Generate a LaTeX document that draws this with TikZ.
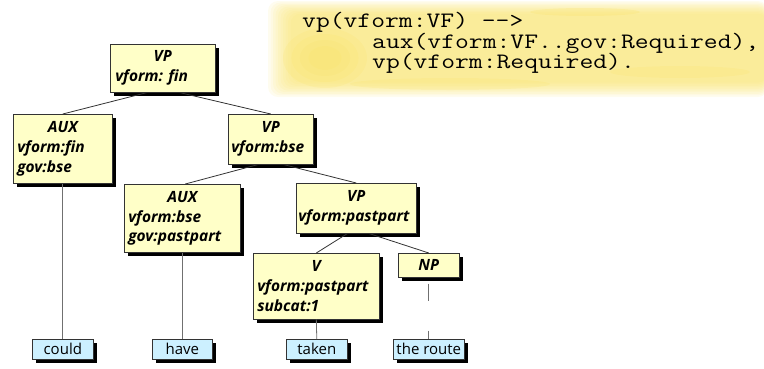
\documentclass[tikz,border=0pt]{standalone}
\usepackage{fontspec}
\setsansfont{Open Sans}
\usetikzlibrary{shadows}
\definecolor{boxfill}{HTML}{FFFFC8}
\definecolor{leaffill}{HTML}{CCF0FF}
\definecolor{edgecol}{HTML}{333333}
\definecolor{leafline}{HTML}{707070}
\definecolor{hiyellow}{HTML}{F8E266}
\tikzset{
  fbox/.style={draw=edgecol, line width=0.6pt, fill=boxfill, rectangle, inner sep=0pt, anchor=north west,
    drop shadow={shadow xshift=4pt, shadow yshift=-4pt, fill=black, opacity=1},
    font=\sffamily\bfseries\itshape\fontsize{15.5}{20}\selectfont},
  leaf/.style={draw=edgecol, line width=0.6pt, fill=leaffill, rectangle, inner sep=0pt, anchor=north west,
    drop shadow={shadow xshift=4pt, shadow yshift=-4pt, fill=black, opacity=1},
    font=\sffamily\fontsize{15}{18}\selectfont, minimum height=20pt},
  tline/.style={draw=edgecol, line width=0.8pt},
  lline/.style={draw=leafline, line width=0.8pt},
  codetxt/.style={anchor=base west, inner sep=0pt, font=\ttfamily\fontsize{22}{21}\selectfont}
}
\newcommand{\flab}[3]{\begin{minipage}{#1pt}\centering #2\par\raggedright #3\end{minipage}}
\newcommand{\wide}[1]{\scalebox{1.22}[1]{#1}}
\begin{document}
\begin{tikzpicture}[x=1pt,y=-1pt]
\useasboundingbox (0,0) rectangle (764,368);
% yellow watercolour background
\foreach \i in {0,...,9}{
  \fill[hiyellow, opacity=0.1, rounded corners=10pt] (268+\i*2.5,1+\i*1.4) rectangle (768,97-\i*1.6);
}
\foreach \r in {1,0.8,0.6,0.4}{
  \fill[hiyellow, opacity=0.18] (325,58) ellipse ({42pt*\r} and {30pt*\r});
}
\fill[hiyellow, opacity=0.25] (585,12) ellipse (55pt and 4pt);
\fill[hiyellow, opacity=0.2] (450,84) ellipse (100pt and 6pt);
\fill[hiyellow, opacity=0.2] (680,72) ellipse (70pt and 6pt);
% code
\node[codetxt] (code1) at (302,27) {\wide{vp(vform:VF) -->}};
\node[codetxt] (code2) at (372,48) {\wide{aux(vform:VF..gov:Required),}};
\node[codetxt] (code3) at (372,68) {\wide{vp(vform:Required).}};
% tree nodes
\node[fbox, minimum width=105pt, minimum height=48pt] (vp1) at (110,44) {\flab{95}{VP}{vform: fin}};
\node[fbox, minimum width=99pt, minimum height=69pt] (aux1) at (13,114) {\flab{91}{AUX}{vform:fin\\gov:bse}};
\node[fbox, minimum width=85pt, minimum height=50pt] (vp2) at (228,114) {\flab{79}{VP}{vform:bse}};
\node[fbox, minimum width=116pt, minimum height=68pt] (aux2) at (124,184) {\flab{108}{AUX}{vform:bse\\gov:pastpart}};
\node[fbox, minimum width=120pt, minimum height=50pt] (vp3) at (296,183) {\flab{116}{VP}{vform:pastpart}};
\node[fbox, minimum width=126pt, minimum height=66pt] (v) at (253,253) {\flab{118}{V}{vform:pastpart\\subcat:1}};
\node[fbox, minimum width=61pt, minimum height=24pt] (np) at (398,253) {NP};
% leaves
\node[leaf, minimum width=61pt] (could) at (32,339) {could};
\node[leaf, minimum width=60pt] (have) at (152,339) {have};
\node[leaf, minimum width=61pt] (taken) at (286,339) {taken};
\node[leaf, minimum width=71pt] (route) at (393,339) {the route};
% edges
\draw[tline] ([xshift=-16pt]vp1.south) -- (aux1.north);
\draw[tline] ([xshift=17pt]vp1.south) -- (vp2.north);
\draw[tline] ([xshift=-13pt]vp2.south) -- ([xshift=3pt]aux2.north);
\draw[tline] ([xshift=13pt]vp2.south) -- (vp3.north);
\draw[tline] ([xshift=-9pt]vp3.south) -- (v.north);
\draw[tline] ([xshift=13pt]vp3.south) -- (np.north);
\draw[lline] (aux1.south) -- (could.north);
\draw[lline] (aux2.south) -- (have.north);
\draw[lline] (v.south) -- (taken.north);
\draw[lline, dash pattern=on 0pt off 6pt on 17pt off 30pt on 9pt] (np.south) -- (route.north);
\end{tikzpicture}
\end{document}
